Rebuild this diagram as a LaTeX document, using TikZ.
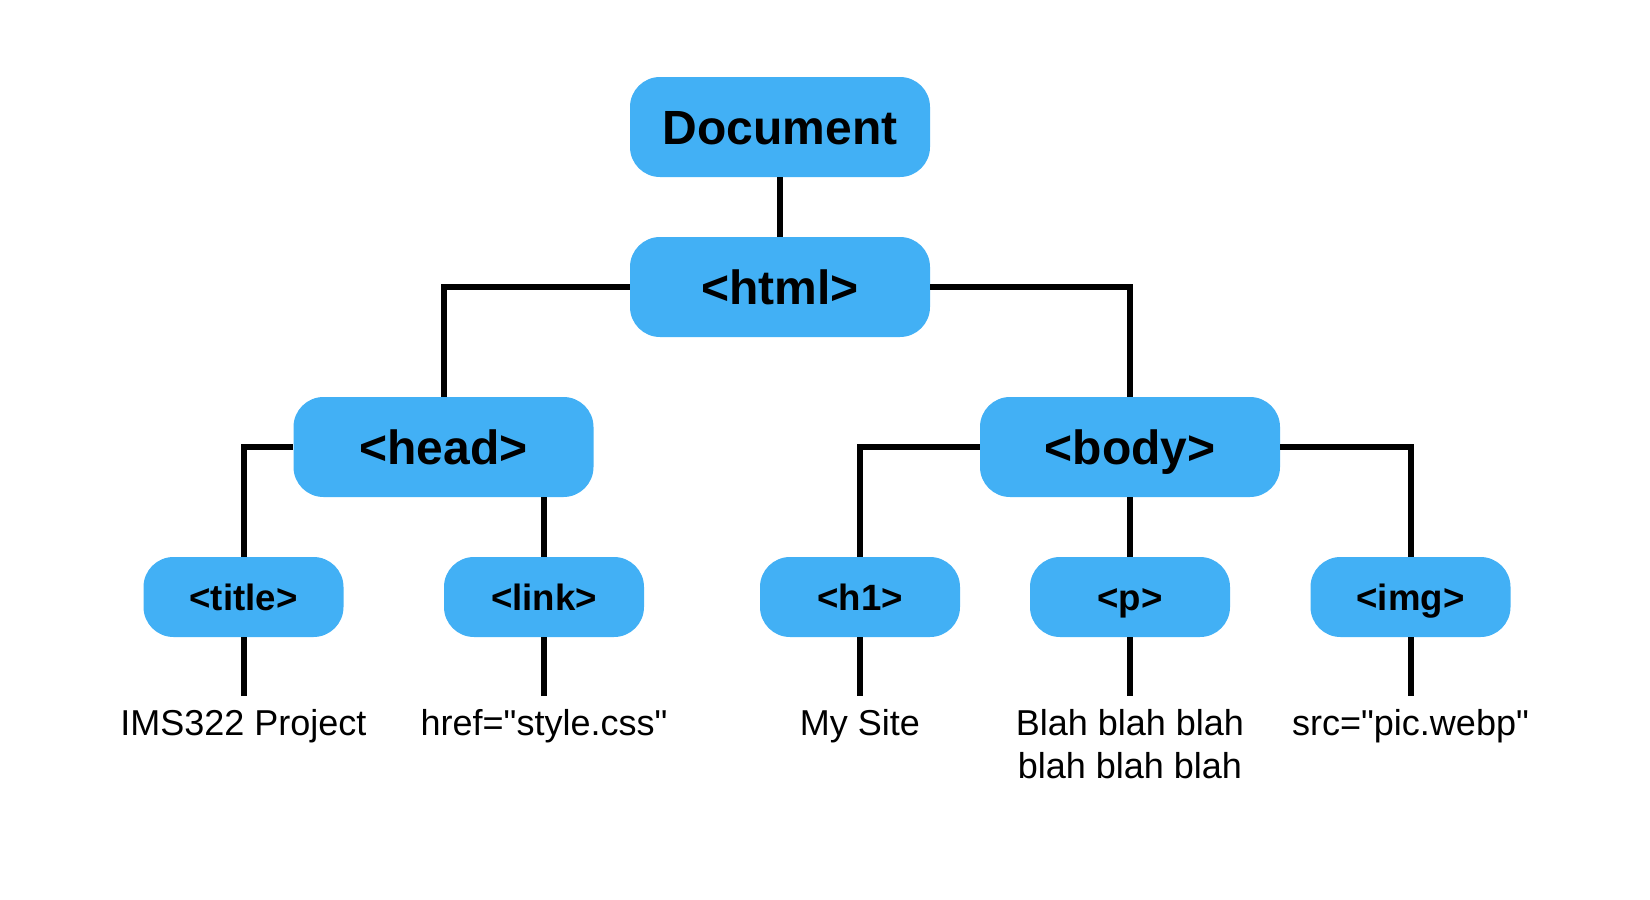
\documentclass[tikz,border=0pt]{standalone}
\usepackage{fontspec}
\setmainfont{Liberation Sans}
\usepackage{xcolor}
\usetikzlibrary{positioning}

\definecolor{tagblue}{RGB}{66,176,245}
\tikzset{
  tag/.style={fill=tagblue, rounded corners=15pt, inner sep=0pt, text depth=0pt},
  bigtag/.style={tag, minimum width=150pt, minimum height=50pt, text height=17.2pt,
    font=\fontsize{24}{28}\selectfont\bfseries},
  smalltag/.style={tag, minimum width=100pt, minimum height=40pt, text height=13.1pt,
    font=\fontsize{18.3}{21}\selectfont\bfseries},
  leaf/.style={inner xsep=0pt, inner ysep=6.5pt, align=center,
    font=\fontsize{18}{21.5}\selectfont},
  branch/.style={line width=3pt}
}

\begin{document}
\begin{tikzpicture} [node distance = 80pt, on grid]

        \useasboundingbox (0,0) rectangle (825pt,-450pt);

        \node (doc) [bigtag] at (390pt,-63.5pt) {Document};
        \node (html) [bigtag, below = of doc] {<html>};
        \node (head) [bigtag, below left = 80pt and 168.25pt of html] {<head>};
        \node (body) [bigtag, below right = 80pt and 175pt of html] {<body>};

        \node (title) [smalltag, below left = 75pt and 100pt of head] {<title>};
        \node (link) [smalltag, below right = 75pt and 50.25pt of head] {<link>};
        \node (h1) [smalltag, below left = 75pt and 135pt of body] {<h1>};
        \node (p) [smalltag, below = 75pt of body] {<p>};
        \node (img) [smalltag, below right = 75pt and 140.25pt of body] {<img>};

        \node (titletxt) [leaf, below = 49.5pt of title, anchor=north] {IMS322 Project};
        \node (linktxt) [leaf, below = 49.5pt of link, anchor=north]
         {href=\textquotedbl style.css\textquotedbl};
        \node (h1txt) [leaf, below = 49.5pt of h1, anchor=north] {My Site};
        \node (ptxt) [leaf, below = 49.5pt of p, anchor=north] {Blah blah blah\\blah blah blah};
        \node (imgtxt) [leaf, below = 49.5pt of img, anchor=north]
         {src=\textquotedbl pic.webp\textquotedbl};

        \draw [branch]
         (doc) -- (html) (html) -| (head) (html) -| (body)
         (head) -| (title) (head.south -| link) -- (link)
         (body) -| (h1) (body) -- (p) (body) -| (img)
         (title) -- (titletxt) (link) -- (linktxt) (h1) -- (h1txt)
         (p) -- (ptxt) (img) -- (imgtxt);

    \end{tikzpicture}
\end{document}
